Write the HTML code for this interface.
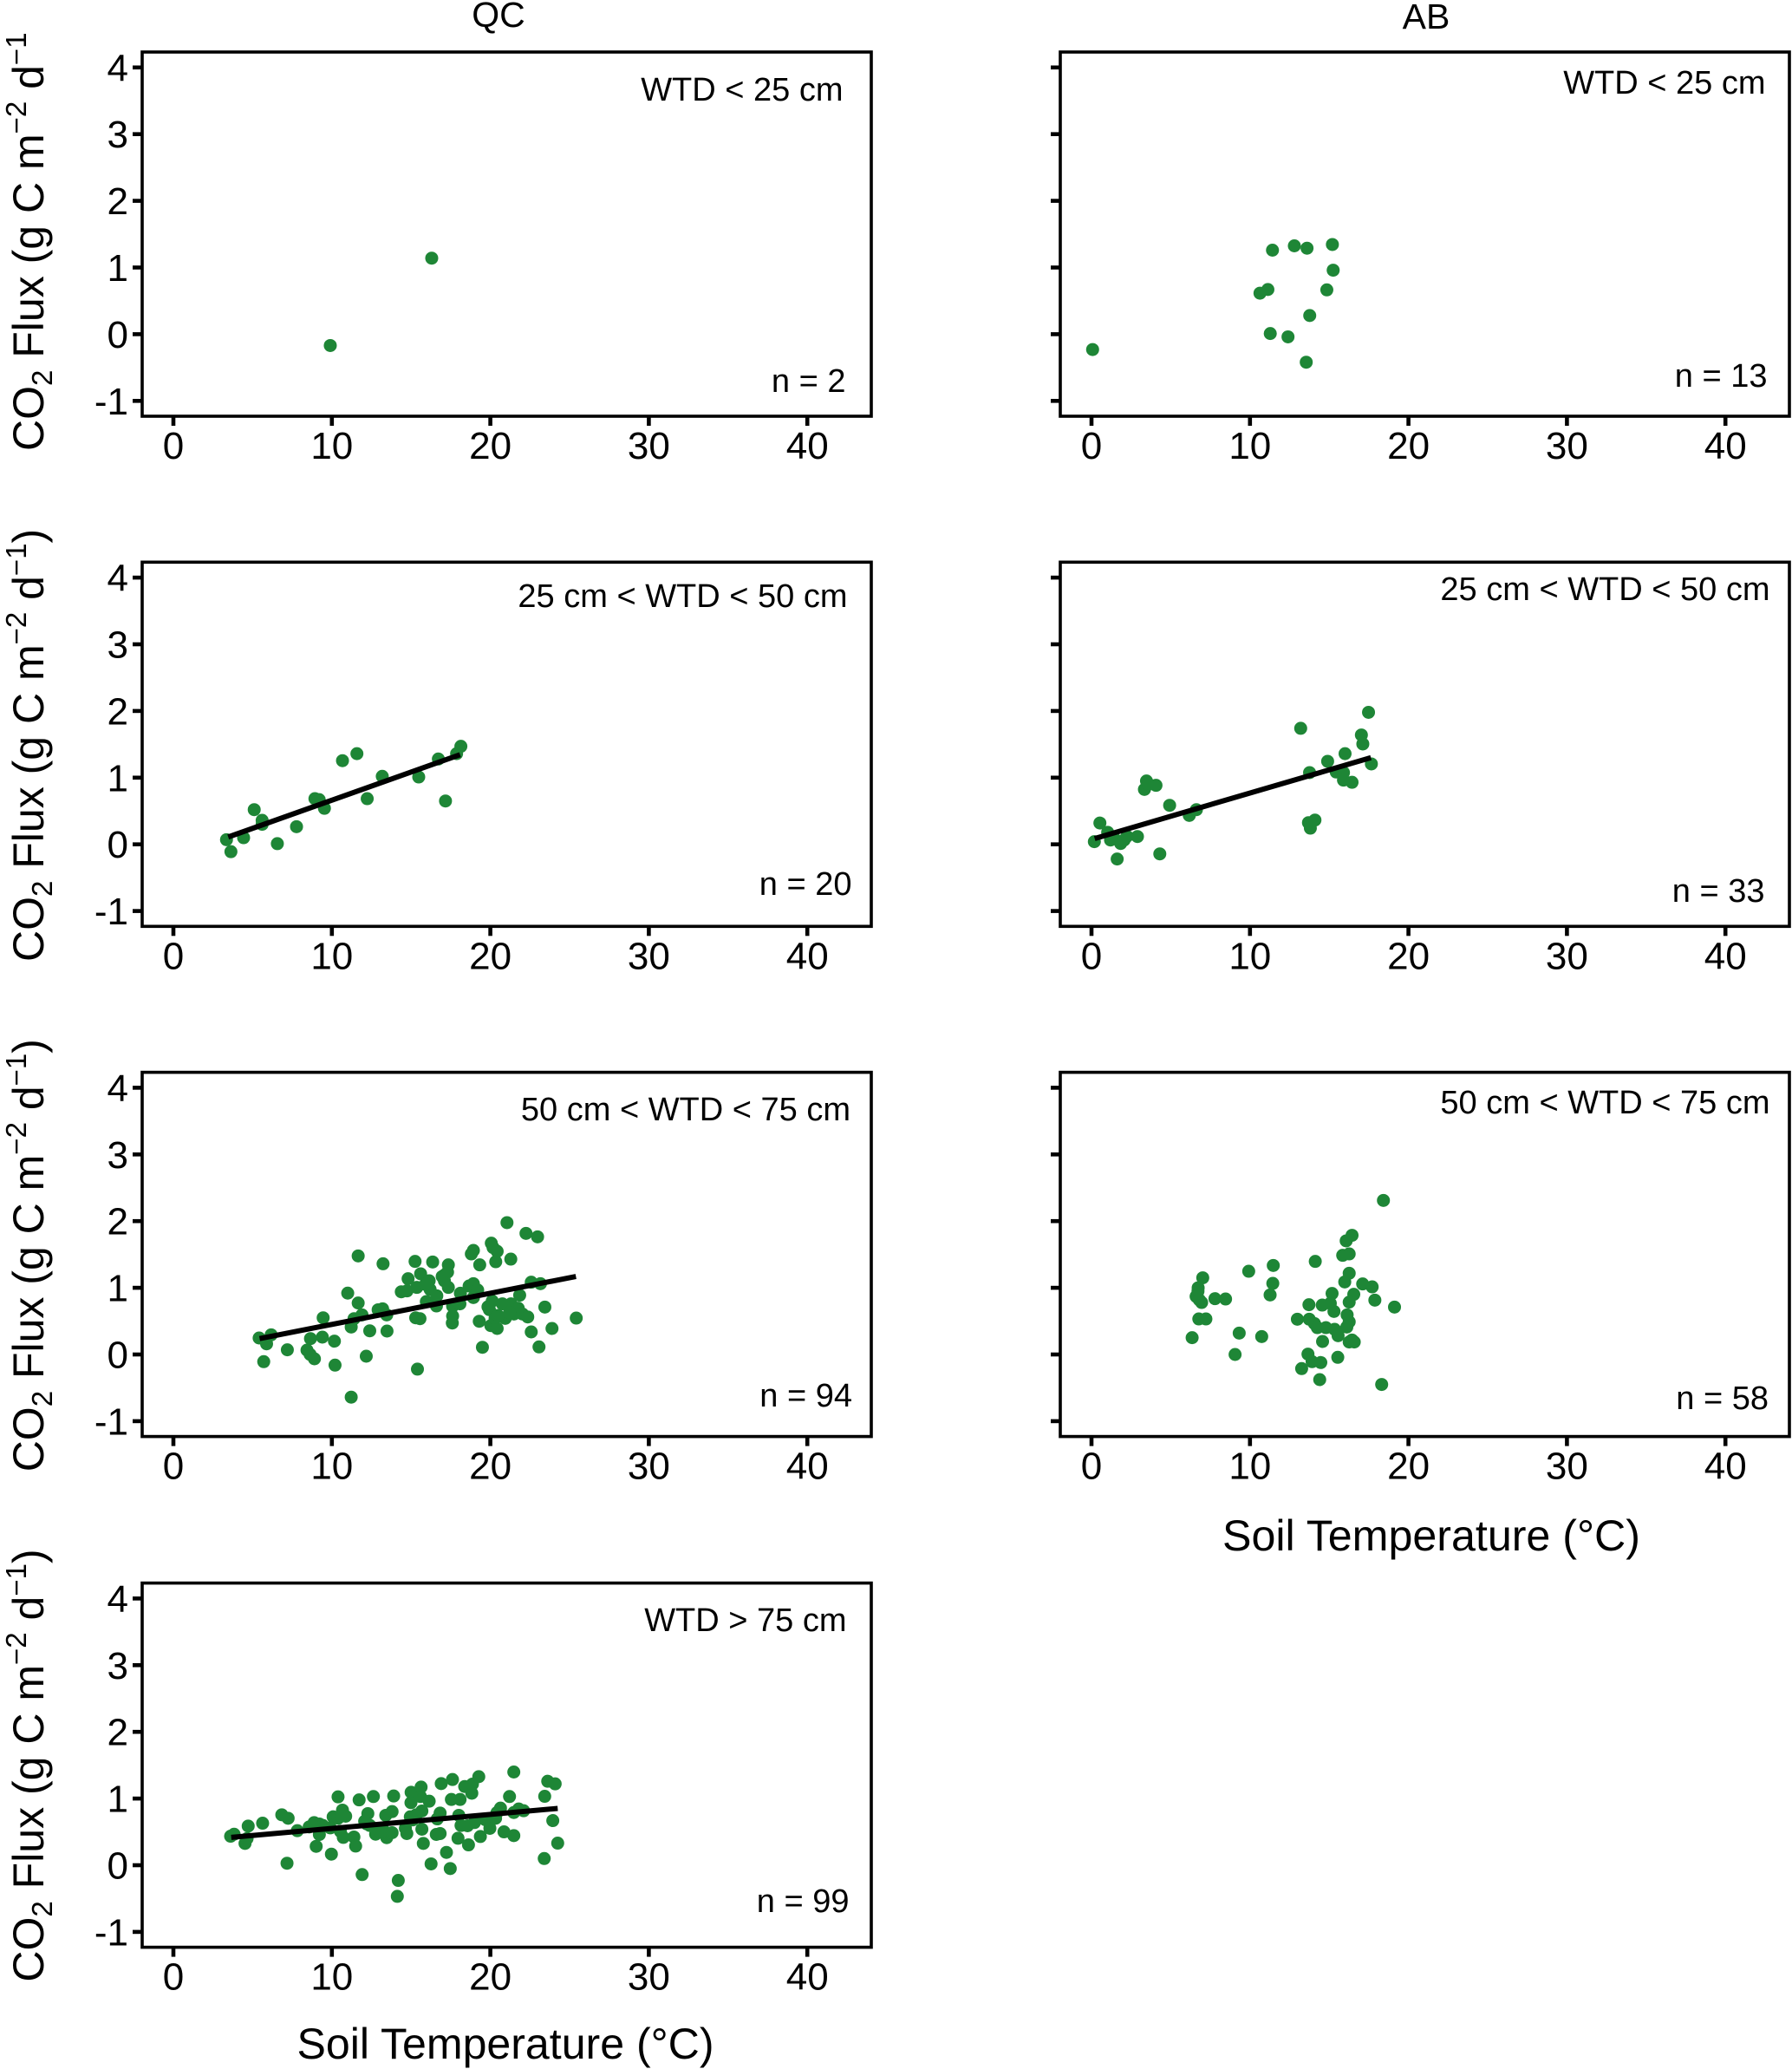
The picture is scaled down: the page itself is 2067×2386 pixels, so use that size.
<!DOCTYPE html>
<html lang="en">
<head>
<meta charset="utf-8">
<title>CO2 flux versus soil temperature</title>
<style>
html,body{margin:0;padding:0;background:#fff;}
svg{display:block;}
text{font-family:"Liberation Sans",Arial,sans-serif;fill:#000;}
.frame{fill:none;stroke:#000;stroke-width:3.6;}
.note{font-size:38px;text-anchor:end;}
.tick-label{font-size:44px;}
.axis-title{font-size:50px;}
.strip{font-size:41px;text-anchor:middle;}
</style>
</head>
<body>
<svg id="chart" xmlns="http://www.w3.org/2000/svg" width="2067" height="2386" viewBox="0 0 2067 2386">
  <rect x="0" y="0" width="2067" height="2386" fill="#fff"/>

  <text class="strip" x="575" y="31">QC</text>
  <text class="strip" x="1645" y="33">AB</text>

  <g id="qc1">
    <rect class="frame" x="164" y="60" width="841" height="420"/>
    <text class="note" x="972.5" y="116">WTD &lt; 25 cm</text>
    <text class="note" x="975.5" y="452">n = 2</text>
  </g>
  <g id="ab1">
    <rect class="frame" x="1223" y="60" width="841" height="420"/>
    <text class="note" x="2036.5" y="108">WTD &lt; 25 cm</text>
    <text class="note" x="2038.5" y="446">n = 13</text>
  </g>
  <g id="qc2">
    <rect class="frame" x="164" y="648.3" width="841" height="420"/>
    <text class="note" x="977.5" y="700">25 cm &lt; WTD &lt; 50 cm</text>
    <text class="note" x="982.5" y="1032">n = 20</text>
  </g>
  <g id="ab2">
    <rect class="frame" x="1223" y="648.3" width="841" height="420"/>
    <text class="note" x="2041.5" y="692">25 cm &lt; WTD &lt; 50 cm</text>
    <text class="note" x="2035.5" y="1040">n = 33</text>
  </g>
  <g id="qc3">
    <rect class="frame" x="164" y="1236.6" width="841" height="420"/>
    <text class="note" x="981" y="1292">50 cm &lt; WTD &lt; 75 cm</text>
    <text class="note" x="983" y="1622">n = 94</text>
  </g>
  <g id="ab3">
    <rect class="frame" x="1223" y="1236.6" width="841" height="420"/>
    <text class="note" x="2041.5" y="1284">50 cm &lt; WTD &lt; 75 cm</text>
    <text class="note" x="2040" y="1625">n = 58</text>
  </g>
  <g id="qc4">
    <rect class="frame" x="164" y="1825.6" width="841" height="420"/>
    <text class="note" x="976.5" y="1881">WTD &gt; 75 cm</text>
    <text class="note" x="979.5" y="2205">n = 99</text>
  </g>

  <text class="axis-title" transform="translate(50,520) rotate(-90)">CO<tspan dy="10" font-size="33">2</tspan><tspan dy="-10"> Flux (g C m</tspan><tspan dy="-20" font-size="33">−2</tspan><tspan dy="20"> d</tspan><tspan dy="-20" font-size="33">−1</tspan></text>
  <text class="axis-title" transform="translate(50,1109) rotate(-90)">CO<tspan dy="10" font-size="33">2</tspan><tspan dy="-10"> Flux (g C m</tspan><tspan dy="-20" font-size="33">−2</tspan><tspan dy="20"> d</tspan><tspan dy="-20" font-size="33">−1</tspan><tspan dy="20">)</tspan></text>
  <text class="axis-title" transform="translate(50,1697.3) rotate(-90)">CO<tspan dy="10" font-size="33">2</tspan><tspan dy="-10"> Flux (g C m</tspan><tspan dy="-20" font-size="33">−2</tspan><tspan dy="20"> d</tspan><tspan dy="-20" font-size="33">−1</tspan><tspan dy="20">)</tspan></text>
  <text class="axis-title" transform="translate(50,2285.6) rotate(-90)">CO<tspan dy="10" font-size="33">2</tspan><tspan dy="-10"> Flux (g C m</tspan><tspan dy="-20" font-size="33">−2</tspan><tspan dy="20"> d</tspan><tspan dy="-20" font-size="33">−1</tspan><tspan dy="20">)</tspan></text>

  <text class="axis-title" x="1651" y="1788" text-anchor="middle" textLength="482" lengthAdjust="spacingAndGlyphs">Soil Temperature (°C)</text>
  <text class="axis-title" x="583" y="2374" text-anchor="middle" textLength="481" lengthAdjust="spacingAndGlyphs">Soil Temperature (°C)</text>
</svg>

<script>
// Axis tick labels
const xTicks = [0, 10, 20, 30, 40];
const yTicks = [-1, 0, 1, 2, 3, 4];

// QC, WTD < 25 cm
const qc1X = [9.9, 16.3];
const qc1Y = [-0.17, 1.14];

// AB, WTD < 25 cm
const ab1X = [0.07, 11.42, 12.8, 13.6, 15.2, 15.25, 11.13, 10.63, 14.85, 13.77, 11.28, 12.4, 13.55];
const ab1Y = [-0.23, 1.26, 1.325, 1.29, 1.345, 0.96, 0.67, 0.615, 0.665, 0.28, 0.01, -0.04, -0.42];

// QC, 25 cm < WTD < 50 cm
const qc2X = [3.35, 3.63, 4.43, 5.1, 5.6, 5.6, 6.56, 7.77, 8.93, 9.2, 9.53, 10.67, 11.58, 12.23, 13.18, 15.48, 16.72, 17.17, 17.87, 18.14];
const qc2Y = [0.07, -0.11, 0.1, 0.52, 0.36, 0.3, 0.01, 0.265, 0.685, 0.67, 0.54, 1.255, 1.36, 0.685, 1.02, 1.01, 1.28, 0.65, 1.36, 1.47];
const qc2FitX = [3.46, 18.09];
const qc2FitY = [0.11, 1.345];

// AB, 25 cm < WTD < 50 cm
const ab2X = [0.18, 0.53, 1.02, 1.2, 1.62, 1.44, 1.84, 2.06, 2.24, 2.9, 3.34, 3.47, 3.6, 4.07, 4.31, 4.93, 6.17, 6.62, 13.2, 13.76, 13.69, 13.81, 14.1, 14.9, 15.44, 15.9, 15.9, 16, 16.44, 17.03, 17.12, 17.48, 17.66];
const ab2Y = [0.04, 0.32, 0.18, 0.065, -0.22, 0.087, 0.013, 0.065, 0.12, 0.117, 0.824, 0.95, 0.9, 0.885, -0.143, 0.585, 0.434, 0.52, 1.74, 1.076, 0.325, 0.243, 0.364, 1.245, 1.085, 1.076, 0.963, 1.36, 0.93, 1.64, 1.505, 1.98, 1.206];
const ab2FitX = [0.2, 17.63];
const ab2FitY = [0.087, 1.3];

// QC, 50 cm < WTD < 75 cm
const qc3X = [5.41, 6.17, 5.88, 5.7, 7.19, 9.45, 8.65, 9.4, 10.16, 8.43, 8.63, 8.9, 10.2, 11, 11.66, 11.66, 11.4, 11.9, 11.22, 12.17, 11.22, 12.39, 12.92, 13.2, 13.46, 13.48, 13.23, 14.38, 14.74, 14.81, 15.36, 15.6, 15.25, 16.36, 16.14, 16.2, 16.62, 15.96, 16.6, 15.29, 15.56, 15.4, 17.35, 17.3, 16.96, 17.1, 17.35, 17.62, 18.08, 17.62, 17.6, 18.11, 18.66, 18.93, 19.2, 18.93, 19.33, 18.8, 18.93, 20.06, 20.17, 20.43, 20.34, 21.29, 21.05, 22.25, 22.98, 19.3, 19.85, 20.12, 19.94, 20.03, 20.43, 20.3, 19.5, 20.76, 20.94, 21.3, 21.49, 21.76, 21.85, 22.03, 22.36, 22.58, 23.16, 23.44, 22.58, 23.89, 23.07, 25.42, 20.48, 21.21, 17.1, 15.9];
const qc3Y = [0.247, 0.295, 0.16, -0.108, 0.07, 0.55, 0.238, 0.26, 0.2, 0.065, 0, -0.065, -0.16, 0.92, 1.478, 0.772, 0.537, 0.594, 0.412, -0.026, -0.64, 0.355, 0.67, 0.685, 0.594, 0.351, 1.36, 0.94, 0.954, 1.136, 1.006, 1.21, 1.396, 1.387, 1.105, 0.975, 0.88, 0.793, 0.728, 0.55, 0.537, -0.22, 1.344, 1.235, 1.17, 1.105, 1.006, 0.724, 0.759, 0.577, 0.472, 0.919, 1.027, 1.062, 0.967, 0.854, 1.344, 1.508, 1.56, 1.669, 1.604, 1.547, 1.391, 1.43, 1.977, 1.816, 1.764, 0.498, 0.715, 0.802, 0.672, 0.433, 0.39, 0.542, 0.108, 0.759, 0.542, 0.759, 0.607, 0.694, 0.889, 0.607, 0.563, 1.084, 1.062, 0.711, 0.338, 0.39, 0.113, 0.546, 0.585, 0.63, 1.19, 1.05];
const qc3FitX = [5.44, 25.4];
const qc3FitY = [0.238, 1.17];

// AB, 50 cm < WTD < 75 cm
const ab3X = [18.42, 16.44, 16.07, 16.26, 15.85, 14.12, 11.47, 9.92, 7.02, 6.73, 11.44, 11.27, 6.6, 6.95, 7.79, 8.46, 16.26, 15.98, 17.11, 17.71, 16.55, 16.26, 17.88, 19.12, 15.18, 15.07, 14.56, 13.72, 15.3, 16.13, 6.77, 7.22, 12.99, 13.74, 14.07, 14.25, 14.79, 15.34, 15.56, 16.26, 16.11, 14.58, 16.44, 16.26, 16.58, 6.35, 9.32, 10.74, 9.06, 13.66, 13.92, 14.47, 15.54, 13.26, 14.4, 18.31, 6.72, 6.8];
const ab3Y = [2.31, 1.787, 1.704, 1.508, 1.487, 1.396, 1.335, 1.248, 1.15, 1.0, 1.066, 0.893, 0.871, 0.78, 0.837, 0.832, 1.218, 1.088, 1.058, 1.014, 0.902, 0.785, 0.815, 0.711, 0.915, 0.767, 0.741, 0.746, 0.646, 0.594, 0.533, 0.533, 0.529, 0.529, 0.464, 0.403, 0.403, 0.377, 0.282, 0.49, 0.412, 0.195, 0.217, 0.187, 0.187, 0.252, 0.321, 0.269, 0, 0.005, -0.108, -0.121, -0.043, -0.212, -0.377, -0.45, 0.95, 0.82];

// QC, WTD > 75 cm
const qc4X = [3.61, 3.83, 4.52, 4.65, 4.72, 5.63, 6.84, 7.24, 7.17, 7.82, 8.57, 8.88, 9.21, 9.43, 9.21, 9.01, 9.97, 10.39, 10.08, 10.39, 10.67, 10.87, 10.54, 10.72, 11.39, 11.5, 11.72, 11.91, 12.27, 12.07, 12.4, 12.62, 12.76, 12.95, 13.4, 13.8, 13.9, 13.31, 13.46, 13.8, 14.19, 14.13, 14.64, 14.73, 14.95, 15, 14.99, 15.63, 15.59, 16.14, 15.68, 15.32, 15.68, 15.77, 16.26, 16.83, 16.65, 16.9, 17.61, 17.54, 18.09, 16.59, 16.83, 17.23, 17.47, 18.01, 18.15, 18.56, 17.96, 18.62, 18.38, 18.87, 18.83, 19.27, 19.37, 19.69, 19.97, 20.33, 20.64, 20.42, 20.86, 21.48, 21.21, 21.48, 21.48, 21.79, 22.1, 23.4, 23.43, 23.62, 24.09, 23.94, 24.25, 13.1, 12.2, 15.1, 19, 9.9, 10.6];
const qc4Y = [0.435, 0.465, 0.327, 0.4, 0.587, 0.63, 0.756, 0.704, 0.03, 0.518, 0.574, 0.639, 0.618, 0.596, 0.46, 0.283, 0.166, 1.025, 0.726, 0.704, 0.826, 0.735, 0.508, 0.417, 0.423, 0.287, 0.98, -0.14, 0.774, 0.66, 0.596, 1.03, 0.465, 0.53, 0.748, 0.804, 1.038, 0.508, 0.413, 0.488, -0.228, -0.467, 0.553, 0.475, 0.726, 1.094, 0.938, 1.172, 1.03, 0.96, 0.813, 0.756, 0.54, 0.327, 0.02, 0.782, 0.695, 1.224, 1.285, 0.986, 0.986, 0.462, 0.475, 0.192, -0.05, 0.748, 0.596, 0.592, 0.404, 0.305, 1.18, 1.216, 1.08, 1.328, 0.43, 0.682, 0.553, 0.704, 0.856, 0.79, 0.5, 0.444, 1.03, 1.398, 0.79, 0.843, 0.817, 0.1, 1.033, 1.259, 1.22, 0.669, 0.331, 0.5, 0.62, 0.68, 0.64, 0.56, 0.74];
const qc4FitX = [3.65, 24.25];
const qc4FitY = [0.418, 0.852];

const SVG_NS = 'http://www.w3.org/2000/svg';
const PX_PER_X = 18.28;
const PX_PER_Y = 76.9;

function xAxis(left) {
  return function (v) { return left + 36 + v * PX_PER_X; };
}
function yAxis(top) {
  return function (v) { return top + 325.4 - v * PX_PER_Y; };
}
function make(tag, attrs, parent) {
  const el = document.createElementNS(SVG_NS, tag);
  for (const key in attrs) { el.setAttribute(key, attrs[key]); }
  parent.appendChild(el);
  return el;
}

function drawPanel(id, left, top, showYLabels, xs, ys, fitX, fitY) {
  const group = document.getElementById(id);
  const sx = xAxis(left);
  const sy = yAxis(top);
  const frame = group.querySelector('rect');

  xTicks.forEach(function (t) {
    const tick = make('line', { x1: sx(t), x2: sx(t), y1: top + 420, y2: top + 431, stroke: '#000', 'stroke-width': 4.6 }, group);
    
    
    const label = make('text', { x: sx(t), y: top + 469, 'text-anchor': 'middle', class: 'tick-label' }, group);
    label.textContent = String(t);
    
    
  });

  yTicks.forEach(function (t) {
    const tick = make('line', { x1: left - 11, x2: left, y1: sy(t), y2: sy(t), stroke: '#000', 'stroke-width': 4.6 }, group);
    
    
    if (showYLabels) {
      const label = make('text', { x: left - 16, y: sy(t) + 15.5, 'text-anchor': 'end', class: 'tick-label' }, group);
      label.textContent = String(t);
      
      
    }
  });

  xs.forEach(function (x, i) {
    const point = make('circle', { cx: sx(x), cy: sy(ys[i]), r: 7.5, fill: '#1e8636' }, group);
    
    
  });

  if (fitX) {
    const fit = make('line', { x1: sx(fitX[0]), y1: sy(fitY[0]), x2: sx(fitX[1]), y2: sy(fitY[1]), stroke: '#000', 'stroke-width': 6 }, group);
    
    
  }
  group.appendChild(frame);
}

drawPanel('qc1', 164, 60, true, qc1X, qc1Y);
drawPanel('ab1', 1223, 60, false, ab1X, ab1Y);
drawPanel('qc2', 164, 648.3, true, qc2X, qc2Y, qc2FitX, qc2FitY);
drawPanel('ab2', 1223, 648.3, false, ab2X, ab2Y, ab2FitX, ab2FitY);
drawPanel('qc3', 164, 1236.6, true, qc3X, qc3Y, qc3FitX, qc3FitY);
drawPanel('ab3', 1223, 1236.6, false, ab3X, ab3Y);
drawPanel('qc4', 164, 1825.6, true, qc4X, qc4Y, qc4FitX, qc4FitY);
</script>
</body>
</html>
